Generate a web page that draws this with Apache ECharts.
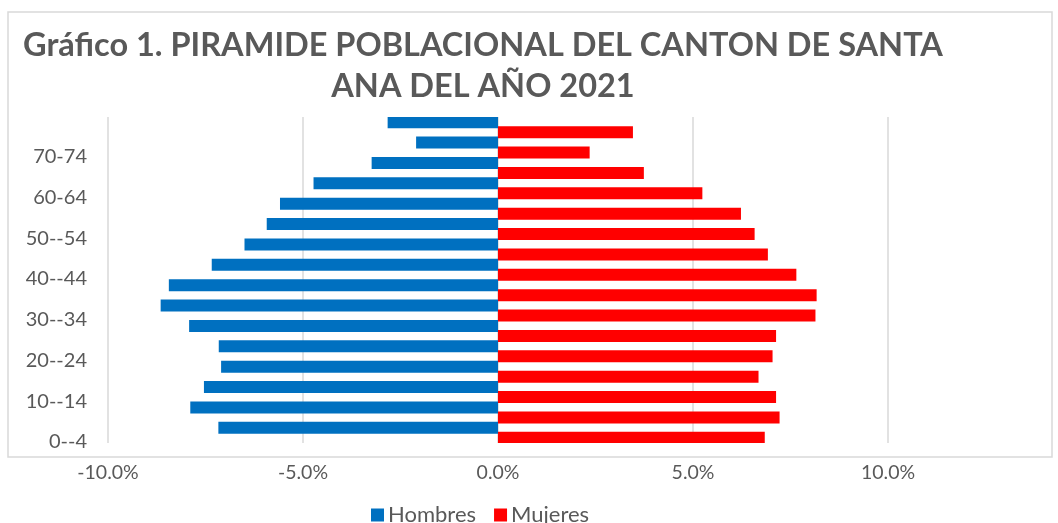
<!DOCTYPE html>
<html>
<head>
<meta charset="utf-8">
<script src="https://cdn.jsdelivr.net/npm/echarts@6/dist/echarts.min.js"></script>
<style>
    html, body { margin: 0; padding: 0; background: #fff; }
    #chart { width: 1058px; height: 523px; }
</style>
</head>
<body>
<div id="chart"></div>
<script>
// grupos de edad, de abajo hacia arriba
var ageGroups = ['0--4', '5--9', '10--14', '15--19', '20--24', '25--29', '30--34', '35--39',
    '40--44', '45--49', '50--54', '55--59', '60-64', '65-69', '70-74', '75 y más'];
// porcentajes (hombres en negativo para el lado izquierdo)
var hombres = [-7.17, -7.89, -7.54, -7.10, -7.16, -7.92, -8.65, -8.44,
    -7.34, -6.50, -5.93, -5.59, -4.73, -3.24, -2.10, -2.83];
var mujeres = [6.84, 7.22, 7.13, 6.68, 7.04, 7.13, 8.14, 8.17,
    7.65, 6.92, 6.58, 6.23, 5.24, 3.74, 2.35, 3.46];
var xTicks = [-10, -5, 0, 5, 10];

var font = 'Lato';
var chart = echarts.init(document.getElementById('chart'));
chart.setOption({
    animation: false,
    title: {
        text: 'Gráfico 1. PIRAMIDE POBLACIONAL DEL CANTON DE SANTA\nANA DEL AÑO 2021',
        left: 478,
        top: 20,
        textAlign: 'center',
        textStyle: {
            fontFamily: font,
            fontWeight: 'bold',
            fontSize: 32.5,
            lineHeight: 41,
            color: '#595959'
        }
    },
    graphic: [{
        type: 'rect',
        shape: { x: 8, y: 12, width: 1044, height: 445 },
        style: { fill: 'none', stroke: '#d9d9d9', lineWidth: 1.5 },
        silent: true
    }],
    legend: {
        bottom: -8,
        left: 366,
        itemWidth: 13,
        itemHeight: 13,
        itemGap: 18,
        icon: 'rect',
        textStyle: { fontFamily: font, fontSize: 22, color: '#595959', padding: [0, 0, 0, -1] },
        data: ['Hombres', 'Mujeres']
    },
    grid: {
        left: 108,
        right: 170,
        top: 117,
        bottom: 80
    },
    xAxis: {
        type: 'value',
        min: xTicks[0],
        max: xTicks[xTicks.length - 1],
        interval: 5,
        axisLine: { show: false },
        axisTick: { show: false },
        splitLine: { lineStyle: { color: '#d9d9d9', width: 1.5 } },
        axisLabel: {
            margin: 20,
            fontFamily: font,
            fontSize: 19.5,
            color: '#595959',
            formatter: function (v) { return v.toFixed(1) + '%'; }
        }
    },
    yAxis: {
        type: 'category',
        data: ageGroups,
        axisLine: { show: false },
        axisTick: { show: false },
        axisLabel: {
            interval: 1,
            margin: 21,
            verticalAlign: 'top',
            lineHeight: 18,
            fontFamily: font,
            fontSize: 20,
            color: '#595959'
        }
    },
    series: [{
        name: 'Hombres',
        type: 'bar',
        data: hombres,
        barWidth: 12,
        barGap: '-17%',
        itemStyle: { color: '#0070C0' }
    }, {
        name: 'Mujeres',
        type: 'bar',
        data: mujeres,
        barWidth: 12,
        barGap: '-17%',
        itemStyle: { color: '#FF0000' }
    }]
});
</script>
</body>
</html>
